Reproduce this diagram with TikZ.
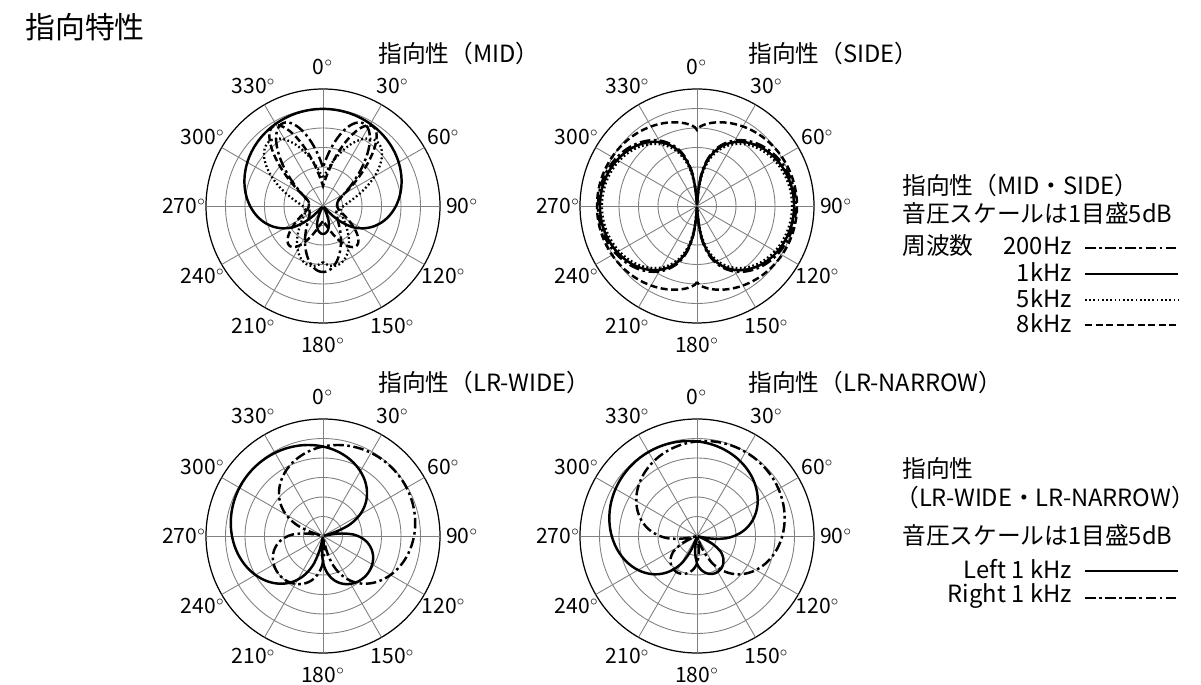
\documentclass[tikz,border=0pt]{standalone}
\usepackage{fontspec}
\setmainfont{Noto Sans CJK JP}
\usetikzlibrary{positioning}

% grid of one polar plot, centre in px
\newcommand{\polargrid}[2]{%
  \foreach \rr in {19.5,39,58.5,78,97.5} \draw[gray, line width=0.5pt] (#1,#2) circle[radius=\rr];
  \draw[black, line width=0.7pt] (#1,#2) circle[radius=117];
  \foreach \a in {0,30,...,150}
    \draw[gray, line width=0.5pt] ({#1+117*sin(\a)},{#2-117*cos(\a)}) -- ({#1-117*sin(\a)},{#2+117*cos(\a)});
  \foreach \a/\t in {0/0,30/30,60/60,90/90,120/120,150/150,180/180,210/210,240/240,270/270,300/300,330/330}
    \node[angle] at ({#1+139*sin(\a)},{#2-139*cos(\a)}) {\t$^\circ$};
}
% one curve, radius in px as a function of \x
\newcommand{\polarcurve}[4]{%
  \draw[#1] plot[domain=-180:180, samples=241] ({#2+(#4)*sin(\x)},{#3-(#4)*cos(\x)}) -- cycle;
}

\begin{document}
\begin{tikzpicture}[x=0.02cm, y=-0.02cm,
    every node/.style={font=\fontsize{13.5}{16}\selectfont},
    angle/.style={font=\fontsize{12}{14}\selectfont, inner sep=0pt},
    title/.style={anchor=west, inner sep=0pt},
    c1k/.style={line width=1.4pt},
    c200/.style={line width=1.4pt, dash pattern=on 6pt off 2pt on 1.5pt off 2pt},
    c5k/.style={line width=1.3pt, dash pattern=on 1pt off 1.4pt},
    c8k/.style={line width=1.4pt, dash pattern=on 4pt off 2pt},
  ]
  \useasboundingbox (0,0) rectangle (1201,685);

  % Heading
  \node[title, font=\fontsize{17}{19}\selectfont] (head) at (25,27) {指向特性};

  % MID
  \node[title] (tmid) at (378,53) {指向性（MID）};
  \polargrid{323}{206}
  \polarcurve{c1k}{323}{206}{max(2,97+70*log10(abs(0.45+0.55*cos(\x))+0.003))}
  \polarcurve{c5k}{323}{206}{16+68*exp(-((abs(\x)-40)/30)^2)+45*exp(-((abs(\x)-168)/35)^2)}
  \polarcurve{c8k}{323}{206}{14+80*exp(-((abs(\x)-32)/20)^2)+38*exp(-((abs(\x)-140)/22)^2)}
  \polarcurve{c200}{323}{206}{14+78*exp(-((abs(\x)-26)/24)^2)+52*exp(-((abs(\x)-180)/32)^2)}

  % SIDE
  \node[title] (tside) at (748,53) {指向性（SIDE）};
  \polargrid{697}{206}
  \polarcurve{c1k}{697}{206}{max(2,97+78*log10(abs(sin(\x))+0.001))}
  \polarcurve{c5k}{697}{206}{max(2,95+80*log10(abs(sin(\x))+0.001))}
  \polarcurve{c200}{697}{206}{max(2,99+78*log10(abs(sin(\x))+0.001))}
  \polarcurve{c8k}{697}{206}{76+24*abs(sin(\x))^0.6}

  % LR-WIDE
  \node[title] (twide) at (378,382) {指向性（LR-WIDE）};
  \polargrid{323}{536}
  \polarcurve{c1k}{323}{536}{max(2,97+78*log10((abs(0.45+0.55*cos(\x)-0.6*sin(\x))+0.06)/1.324))}
  \polarcurve{c200}{323}{536}{max(2,97+78*log10((abs(0.45+0.55*cos(\x)+0.6*sin(\x))+0.06)/1.324))}

  % LR-NARROW
  \node[title] (tnarrow) at (748,382) {指向性（LR-NARROW）};
  \polargrid{697}{536}
  \polarcurve{c1k}{697}{536}{max(2,97+78*log10((abs(0.45+0.55*cos(\x)-0.3*sin(\x))+0.04)/1.1165))}
  \polarcurve{c200}{697}{536}{max(2,97+78*log10((abs(0.45+0.55*cos(\x)+0.3*sin(\x))+0.04)/1.1165))}

  % Legend MID/SIDE
  \node[title] (lg1) at (902,185) {指向性（MID・SIDE）};
  \node[title] (lg2) at (902,213) {音圧スケールは1目盛5dB};
  \node[title] (lg3) at (902,246) {周波数};
  \node[anchor=east, inner sep=0pt] (f200) at (1072,246) {200Hz};
  \node[anchor=east, inner sep=0pt] (f1k) at (1072,272) {1kHz};
  \node[anchor=east, inner sep=0pt] (f5k) at (1072,298) {5kHz};
  \node[anchor=east, inner sep=0pt] (f8k) at (1072,323) {8kHz};
  \draw[c200] (1085,248) -- (1178,248);
  \draw[c1k] (1085,274) -- (1178,274);
  \draw[c5k] (1085,300) -- (1178,300);
  \draw[c8k] (1085,325) -- (1178,325);

  % Legend LR
  \node[title] (lg4) at (902,468) {指向性};
  \node[title] (lg5) at (895,497) {（LR-WIDE・LR-NARROW）};
  \node[title] (lg6) at (902,535) {音圧スケールは1目盛5dB};
  \node[anchor=east, inner sep=0pt] (fl) at (1072,569) {Left 1 kHz};
  \node[anchor=east, inner sep=0pt] (fr) at (1072,596) {Right 1 kHz};
  \draw[c1k] (1085,571) -- (1178,571);
  \draw[c200] (1085,598) -- (1178,598);
\end{tikzpicture}
\end{document}
